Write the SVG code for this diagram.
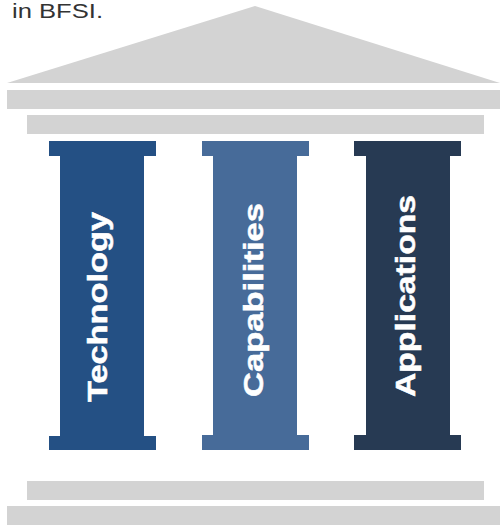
<svg xmlns="http://www.w3.org/2000/svg" width="501" height="529" viewBox="0 0 501 529">
<style>
.g{fill:#d3d3d3}
.lbl{font-family:"Liberation Sans",Arial,sans-serif;font-weight:bold;font-size:28px;fill:#ffffff;stroke:#ffffff;stroke-width:0.5}
.p1{fill:#245084}
.p2{fill:#476b99}
.p3{fill:#273a53}
</style>
<rect width="501" height="529" fill="#ffffff"/>
<text x="12" y="18" font-family="'Liberation Sans',Arial,sans-serif" font-size="20" fill="#333333" textLength="91" lengthAdjust="spacingAndGlyphs">in BFSI.</text>
<g id="roof">
<polygon class="g" points="255,6 500,83 7,83"/>
<rect class="g" x="7" y="90" width="493" height="19"/>
<rect class="g" x="27" y="115" width="457" height="19"/>
</g>
<g id="pillar-technology">
<rect class="p1" x="49" y="141" width="107" height="15"/>
<rect class="p1" x="60" y="141" width="84" height="309"/>
<rect class="p1" x="49" y="436" width="107" height="14"/>
<text class="lbl" transform="translate(107,402) rotate(-90)" textLength="190" lengthAdjust="spacingAndGlyphs">Technology</text>
</g>
<g id="pillar-capabilities">
<rect class="p2" x="202" y="141" width="107" height="15"/>
<rect class="p2" x="213" y="141" width="84" height="309"/>
<rect class="p2" x="202" y="435" width="107" height="15"/>
<text class="lbl" transform="translate(263,397) rotate(-90)" textLength="194" lengthAdjust="spacingAndGlyphs">Capabilities</text>
</g>
<g id="pillar-applications">
<rect class="p3" x="354" y="141" width="107" height="15"/>
<rect class="p3" x="366" y="141" width="84" height="309"/>
<rect class="p3" x="354" y="435" width="107" height="15"/>
<text class="lbl" transform="translate(415,397) rotate(-90)" textLength="202" lengthAdjust="spacingAndGlyphs">Applications</text>
</g>
<g id="base">
<rect class="g" x="27" y="481" width="457" height="19"/>
<rect class="g" x="7" y="506" width="493" height="19"/>
</g>
<g id="connectors"/>
</svg>
